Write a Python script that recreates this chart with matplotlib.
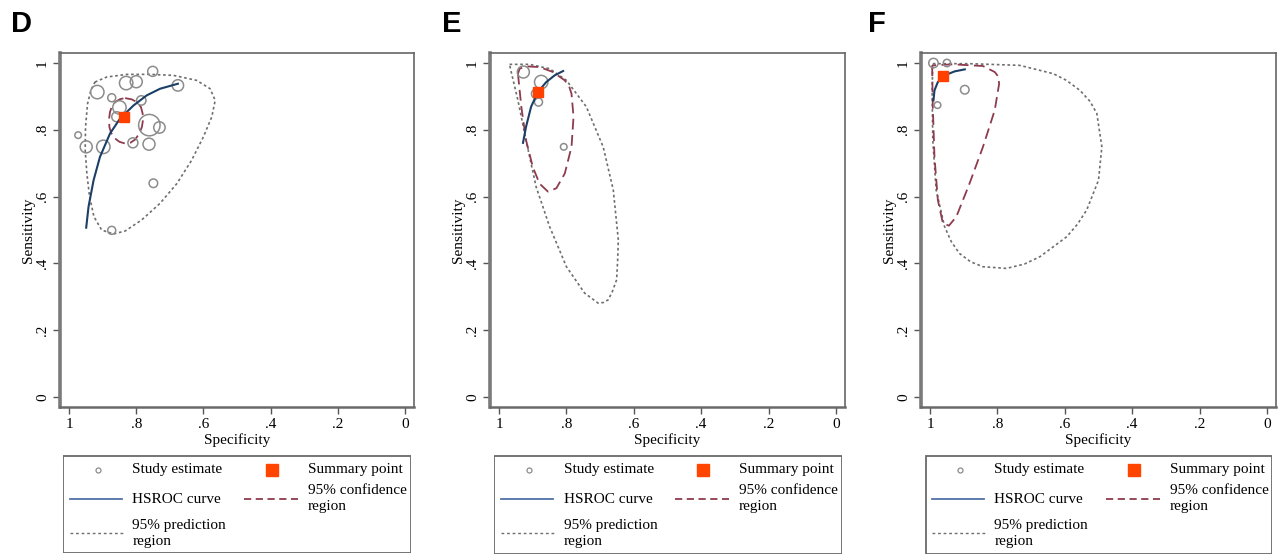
import numpy as np
import matplotlib
matplotlib.use("Agg")
import matplotlib.pyplot as plt
from matplotlib.patches import Rectangle

plt.rcParams["font.family"] = ["Liberation Serif", "DejaVu Serif"]

# ---- panel D ----
d_spec = [0.751, 0.830, 0.800, 0.916, 0.873, 0.676, 0.785, 0.850, 0.858,
          0.761, 0.731, 0.973, 0.949, 0.898, 0.810, 0.762, 0.749, 0.873]
d_sens = [0.975, 0.940, 0.944, 0.913, 0.896, 0.933, 0.888, 0.867, 0.839,
          0.814, 0.807, 0.784, 0.749, 0.749, 0.761, 0.757, 0.640, 0.499]
d_weight = [5.0, 6.7, 6.0, 6.7, 4.0, 5.7, 4.7, 6.7, 5.0,
            10.7, 5.7, 3.3, 6.0, 6.7, 5.0, 6.0, 4.3, 4.0]
d_summary = (0.836, 0.839)
d_hsroc_spec = [0.949, 0.942, 0.927, 0.908, 0.878, 0.848, 0.808, 0.769, 0.729, 0.676]
d_hsroc_sens = [0.507, 0.570, 0.649, 0.719, 0.789, 0.834, 0.873, 0.903, 0.923, 0.938]
d_conf_spec = [0.833, 0.813, 0.798, 0.786, 0.781, 0.780, 0.783, 0.791, 0.803, 0.818,
               0.833, 0.850, 0.863, 0.875, 0.880, 0.881, 0.878, 0.872, 0.863, 0.848]
d_conf_sens = [0.895, 0.891, 0.883, 0.868, 0.849, 0.829, 0.809, 0.789, 0.771, 0.761,
               0.759, 0.764, 0.774, 0.791, 0.809, 0.832, 0.854, 0.871, 0.883, 0.892]
d_pred_spec = [0.923, 0.888, 0.828, 0.759, 0.689, 0.620, 0.580, 0.565, 0.575, 0.600,
               0.635, 0.679, 0.729, 0.784, 0.833, 0.868, 0.903, 0.926, 0.939, 0.947,
               0.952, 0.951, 0.945, 0.935]
d_pred_sens = [0.943, 0.958, 0.966, 0.966, 0.963, 0.948, 0.923, 0.888, 0.839, 0.779,
               0.709, 0.639, 0.580, 0.530, 0.497, 0.488, 0.500, 0.540, 0.600, 0.669,
               0.739, 0.809, 0.878, 0.918]

# ---- panel E ----
e_spec = [0.928, 0.875, 0.890, 0.883, 0.808]
e_sens = [0.973, 0.943, 0.908, 0.883, 0.749]
e_weight = [6.0, 6.7, 4.7, 4.0, 3.3]
e_summary = (0.885, 0.913)
e_hsroc_spec = [0.929, 0.920, 0.905, 0.885, 0.860, 0.835, 0.810]
e_hsroc_sens = [0.761, 0.809, 0.869, 0.913, 0.943, 0.963, 0.976]
e_conf_spec = [0.944, 0.934, 0.920, 0.900, 0.880, 0.855, 0.830, 0.805, 0.785, 0.779,
               0.785, 0.792, 0.805, 0.840, 0.880, 0.920, 0.939]
e_conf_sens = [0.968, 0.869, 0.769, 0.689, 0.639, 0.615, 0.625, 0.669, 0.749, 0.839,
               0.908, 0.930, 0.948, 0.973, 0.988, 0.990, 0.983]
e_pred_spec = [0.969, 0.910, 0.850, 0.800, 0.741, 0.691, 0.661, 0.646, 0.648, 0.651,
               0.664, 0.676, 0.690, 0.706, 0.746, 0.800, 0.850, 0.890, 0.920, 0.944,
               0.964]
e_pred_sens = [0.996, 0.996, 0.983, 0.948, 0.869, 0.749, 0.620, 0.470, 0.410, 0.351,
               0.315, 0.291, 0.283, 0.281, 0.311, 0.390, 0.510, 0.629, 0.769, 0.888,
               0.973]

# ---- panel F ----
f_spec = [0.990, 0.950, 0.897, 0.978]
f_sens = [1.000, 1.000, 0.920, 0.874]
f_weight = [4.7, 3.7, 4.3, 3.3]
f_summary = (0.962, 0.960)
f_hsroc_spec = [0.990, 0.987, 0.977, 0.957, 0.927, 0.897]
f_hsroc_sens = [0.888, 0.918, 0.943, 0.963, 0.975, 0.981]
f_conf_spec = [0.994, 0.992, 0.987, 0.977, 0.962, 0.944, 0.922, 0.883, 0.843, 0.808,
               0.795, 0.798, 0.808, 0.843, 0.932]
f_conf_sens = [0.993, 0.869, 0.719, 0.590, 0.520, 0.513, 0.540, 0.639, 0.749, 0.859,
               0.938, 0.960, 0.973, 0.991, 0.996]
f_pred_spec = [0.992, 0.883, 0.734, 0.634, 0.595, 0.555, 0.525, 0.505, 0.490, 0.500,
               0.535, 0.562, 0.594, 0.674, 0.720, 0.773, 0.843, 0.880, 0.913, 0.937,
               0.957, 0.982, 0.992, 0.994]
f_pred_sens = [0.998, 0.998, 0.993, 0.968, 0.948, 0.918, 0.885, 0.849, 0.749, 0.649,
               0.560, 0.518, 0.480, 0.420, 0.398, 0.385, 0.390, 0.405, 0.430, 0.465,
               0.510, 0.620, 0.769, 0.918]

tick_vals = [0, 0.2, 0.4, 0.6, 0.8, 1]
tick_labels = ["0", ".2", ".4", ".6", ".8", "1"]
legend_labels = ["Study estimate", "Summary point", "HSROC curve",
                 "95% confidence\nregion", "95% prediction\nregion"]

panels = [
    ("D", d_spec, d_sens, d_weight, d_summary, d_hsroc_spec, d_hsroc_sens,
     d_conf_spec, d_conf_sens, d_pred_spec, d_pred_sens),
    ("E", e_spec, e_sens, e_weight, e_summary, e_hsroc_spec, e_hsroc_sens,
     e_conf_spec, e_conf_sens, e_pred_spec, e_pred_sens),
    ("F", f_spec, f_sens, f_weight, f_summary, f_hsroc_spec, f_hsroc_sens,
     f_conf_spec, f_conf_sens, f_pred_spec, f_pred_sens),
]

W, H = 1278, 555
CIRCLE = "#8c8c8c"
NAVY = "#1c3f66"
MAROON = "#8e3b4d"
PRED = "#6e6e6e"
ORANGE = "#ff4000"

fig = plt.figure(figsize=(W / 100, H / 100), dpi=100)


def px_rect(x0, y0, x1, y1):
    return [x0 / W, 1 - y1 / H, (x1 - x0) / W, (y1 - y0) / H]


axes_px = [(60, 53, 414, 407), (490, 53, 845, 407), (921, 53, 1276, 407)]
legend_px = [(63, 455, 411, 553), (494, 455, 842, 554), (925, 455, 1272, 554)]
letter_px = [(11, 10), (442, 10), (868, 10)]

for (letter, spec, sens, weight, summ, hs, hy, cs, cy, ps, py), apx, lpx, tpx in zip(
        panels, axes_px, legend_px, letter_px):
    ax = fig.add_axes(px_rect(*apx))
    ax.set_xlim(1.027, -0.027)
    ax.set_ylim(-0.03, 1.03)

    sizes = [(1.44 * w) ** 2 for w in weight]
    ax.scatter(spec, sens, s=sizes, facecolors="none", edgecolors=CIRCLE,
               linewidths=1.1, zorder=3)
    ax.plot(list(ps) + [ps[0]], list(py) + [py[0]], color=PRED, lw=1.2,
            linestyle=(0, (1.6, 1.6)), zorder=2)
    ax.plot(list(cs) + [cs[0]], list(cy) + [cy[0]], color=MAROON, lw=1.3,
            linestyle=(0, (6, 3)), zorder=2)
    ax.plot(hs, hy, color=NAVY, lw=1.5, zorder=4)
    ax.plot([summ[0]], [summ[1]], marker="s", ms=7.5, color=ORANGE,
            mec=ORANGE, linestyle="none", zorder=5)

    ax.set_xticks(tick_vals)
    ax.set_xticklabels(tick_labels)
    ax.set_yticks(tick_vals)
    ax.set_yticklabels(tick_labels, rotation=90, va="center")
    ax.tick_params(axis="both", length=5, width=1.0, color="#555555",
                   labelsize=11, pad=3)
    for side in ["top", "right"]:
        ax.spines[side].set_color("#666666")
        ax.spines[side].set_linewidth(1.2)
    ax.spines["left"].set_color("#7a7a7a")
    ax.spines["left"].set_linewidth(2.6)
    ax.spines["bottom"].set_color("#6a6a6a")
    ax.spines["bottom"].set_linewidth(1.8)

    ax.set_xlabel("Specificity", fontsize=11)
    ax.set_ylabel("Sensitivity", fontsize=11)
    ax.xaxis.set_label_coords(0.5, -0.074)
    ax.yaxis.set_label_coords(-0.07, 0.5)

    fig.text(tpx[0] / W, 1 - tpx[1] / H, letter, family="Liberation Sans",
             fontweight="bold", fontsize=21, va="top", ha="left")

    # legend box drawn in its own pixel-scaled axes
    lx0, ly0, lx1, ly1 = lpx
    lw_, lh_ = lx1 - lx0, ly1 - ly0
    lg = fig.add_axes(px_rect(*lpx))
    lg.set_xlim(0, lw_)
    lg.set_ylim(lh_, 0)
    lg.axis("off")
    lg.add_patch(Rectangle((0.5, 0.5), lw_ - 1, lh_ - 1, fill=False,
                           edgecolor="#6a6a6a", lw=1.3))
    lg.plot([34.5], [14.5], marker="o", ms=3.6, mfc="none", mec=CIRCLE, mew=0.9)
    lg.plot([208.5], [14.5], marker="s", ms=8, color="#ff4500", linestyle="none")
    lg.plot([7, 59], [43.5, 43.5], color="#4f72a6", lw=1.3)
    lg.plot([181, 235], [44, 44], color=MAROON, lw=1.3, linestyle=(0, (4, 2.5)))
    lg.plot([7, 60], [77.5, 77.5], color=PRED, lw=1.0, linestyle=(0, (2, 2)))
    txt = dict(fontsize=11, va="center", ha="left", linespacing=1.3)
    lg.text(69.5, 15, legend_labels[0], **txt)
    lg.text(245, 15, legend_labels[1], **txt)
    lg.text(69.5, 44.5, legend_labels[2], **txt)
    lg.text(245, 43.5, legend_labels[3], **txt)
    lg.text(69.5, 79, legend_labels[4], **txt)

fig.savefig("out.png", dpi=100)
plt.close(fig)
